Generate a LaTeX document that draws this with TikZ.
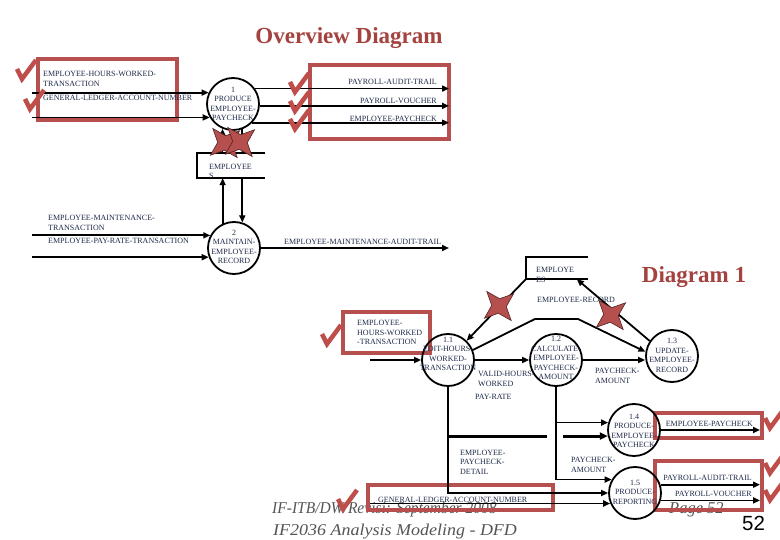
\documentclass[tikz,border=0pt]{standalone}
\usepackage{graphicx}
\usepackage{fontspec}
\setmainfont{Liberation Serif}
\newfontfamily\dfdfont{Liberation Serif}
\newfontfamily\numfont{Liberation Sans}
\usetikzlibrary{arrows.meta,shapes.geometric}
\definecolor{titlered}{HTML}{A3423F}
\definecolor{boxred}{HTML}{B5504E}
\definecolor{chkred}{HTML}{BF4E4B}
\definecolor{navy}{HTML}{1E2A48}
\definecolor{footgray}{HTML}{555555}
\begin{document}
\begin{tikzpicture}[x=1pt,y=-1pt,
  flow/.style={line width=1.8pt,-{Triangle[length=7pt,width=6pt]}},
  thickflow/.style={line width=3pt,-{Triangle[length=8pt,width=7pt]}},
  plain/.style={line width=1.8pt},
  thickline/.style={line width=3pt},
  proc/.style={circle,draw,line width=1.8pt,minimum size=52pt,inner sep=0pt},
  ptext/.style={font=\dfdfont\fontsize{8}{9.5}\selectfont,text=navy,align=center,inner sep=0pt},
  lbl/.style={font=\dfdfont\fontsize{8}{9.5}\selectfont,text=navy,align=left,inner sep=0pt},
  storebox/.style={inner sep=0pt},
  storeline/.style={line width=1.8pt},
  redbox/.style={draw=boxred,line width=3.5pt},
  redx/.style={star,star points=4,star point ratio=2.6,minimum size=38pt,inner sep=0pt,outer sep=0pt,fill=boxred,draw=black!55!boxred,line width=0.6pt,rotate=40},
  chk/.pic={\draw[chkred,line width=4.5pt,line join=miter] (-5,-10) -- (0,0) -- (14,-19);},
  ttl/.style={font=\bfseries\fontsize{23}{26}\selectfont,text=titlered,inner sep=0pt},
  foot/.style={font=\itshape\fontsize{16.5}{20}\selectfont,text=footgray,inner sep=0pt}
]
\useasboundingbox (0,0) rectangle (780,540);
\fill[white] (0,0) rectangle (780,540);

% footer
\node[foot,anchor=base west] (f1) at (272,513) {\scalebox{0.94}[1]{IF-ITB/DW/Revisi: September 2008}};
\node[foot,anchor=base west] (f2) at (273,535) {\scalebox{1.09}[1]{IF2036 Analysis Modeling - DFD}};
\node[foot,anchor=base west] (f3) at (669,513) {Page 52};
\node[font=\numfont\fontsize{20.5}{22}\selectfont,anchor=base west,inner sep=0pt] (f4) at (742,530) {52};

% titles
\node[ttl] (t1) at (349,38) {Overview Diagram};
\node[ttl] (t2) at (694,277) {Diagram 1};

% red boxes
\draw[redbox] (38,59) rectangle (177,120);
\draw[redbox] (310,65) rectangle (449,139);
\draw[redbox] (343,312) rectangle (430,353);
\draw[redbox] (368,485) rectangle (553,510);
\draw[redbox] (655,413) rectangle (762,438);
\draw[redbox] (655,461) rectangle (762,510);

% ---------- overview ----------
\node[proc] (p1) at (233,104) {};
\node[ptext] (p1t) at (233,104) {1\\PRODUCE\\EMPLOYEE-\\PAYCHECK};
\node[proc] (p2) at (234,248) {};
\node[ptext] (p2t) at (234,247) {2\\MAINTAIN-\\EMPLOYEE-\\RECORD};

\node[storebox,minimum width=68pt,minimum height=25pt] (s1) at (231,165.5) {};
\draw[storeline] (s1.north east) -- (s1.north west) -- (s1.south west) -- (s1.south east);
\node[lbl,anchor=west] (s1t) at (209,171.5) {EMPLOYEE\\S};

\coordinate (lx) at (32,0);
\coordinate (rx) at (449,0);
\draw[flow] (lx |- p1.155) -- (p1.155);
\draw[flow] (lx |- p1.210) -- (p1.210);
\draw[flow] (p1.35) -- (p1.35 -| rx);
\draw[flow] (p1.356) -- (p1.356 -| rx);
\draw[flow] (p1.316) -- (p1.316 -| rx);

\draw[flow] (p1.247 |- s1.north) -- (p1.247);
\draw[flow] (p1.290) -- (p1.290 |- s1.north);
\draw[flow] (p2.115) -- (p2.115 |- s1.south);
\draw[flow] (p2.72 |- s1.south) -- (p2.72);

\draw[flow] (lx |- p2.152) -- (p2.152);
\draw[flow] (lx |- p2.200) -- (p2.200);
\draw[flow] (p2.east) -- (p2.east -| rx);

\node[lbl,anchor=west] (l1) at (43,78.7) {EMPLOYEE-HOURS-WORKED-\\TRANSACTION};
\node[lbl,anchor=west] (l2) at (43,98) {GENERAL-LEDGER-ACCOUNT-NUMBER};
\node[lbl,anchor=east] (l3) at (437,82) {PAYROLL-AUDIT-TRAIL};
\node[lbl,anchor=east] (l4) at (437,101) {PAYROLL-VOUCHER};
\node[lbl,anchor=east] (l5) at (437,119) {EMPLOYEE-PAYCHECK};
\node[lbl,anchor=west] (l6) at (48,223) {EMPLOYEE-MAINTENANCE-\\TRANSACTION};
\node[lbl,anchor=west] (l7) at (48,241) {EMPLOYEE-PAY-RATE-TRANSACTION};
\node[lbl,anchor=west] (l8) at (284,242) {EMPLOYEE-MAINTENANCE-AUDIT-TRAIL};

% ---------- diagram 1 ----------
\node[storebox,minimum width=62pt,minimum height=22pt] (s2) at (557,268) {};
\draw[storeline] (s2.north east) -- (s2.north west) -- (s2.south west) -- (s2.south east);
\node[lbl,anchor=west] (s2t) at (536,275) {EMPLOYE\\ES};
\node[lbl,anchor=west] (l9) at (537,300) {EMPLOYEE-RECORD};

\node[proc] (p11) at (448,360) {};
\node[ptext] (p11t) at (448,354) {1.1\\EDIT-HOURS-\\WORKED-\\TRANSACTION};
\node[proc] (p12) at (556,360) {};
\node[ptext] (p12t) at (556,358) {1.2\\CALCULATE-\\EMPLOYEE-\\PAYCHECK-\\AMOUNT};
\node[proc] (p13) at (672,356) {};
\node[ptext] (p13t) at (672,355.5) {1.3\\UPDATE-\\EMPLOYEE-\\RECORD};
\node[proc] (p14) at (634,430) {};
\node[ptext] (p14t) at (634,431) {1.4\\PRODUCE-\\EMPLOYEE-\\PAYCHECK};
\node[proc] (p15) at (635,493) {};
\node[ptext] (p15t) at (635,492) {1.5\\PRODUCE-\\REPORTING};

\draw[flow] (s2.south west) -- (p11.46);
\draw[flow] (p13.146) -- ([xshift=51pt]s2.south west);
\coordinate (k1) at (535,319);
\coordinate (k2) at (578,319);
\draw[flow] (p11.22) -- (k1) -- (k2) -- (p13.171);

\coordinate (in11) at (370,360);
\draw[flow] (in11) -- (p11.west);
\draw[flow] (p11.east) -- (p12.west);
\draw[flow] (p12.east) -- (p12.east -| p13.west);

\draw[flow] (p11.south) -- (p11.south |- p15.west) -- (p15.west);
\coordinate (t1a) at (448,436);
\coordinate (t1b) at (547,436);
\coordinate (t1c) at (563,436);
\draw[thickline] (t1a) -- (t1b);
\draw[thickflow] (t1c |- p14.193) -- (p14.193);
\draw[flow] (p12.south) -- (p12.south |- p15.150) -- (p15.150);
\draw[flow] (p12.south |- p14.164) -- (p14.164);
\coordinate (in15) at (370,0);
\draw[flow] (in15 |- p15.203) -- (p15.203);
\coordinate (rx2) at (760,0);
\draw[flow] (p14.east) -- (p14.east -| rx2);
\draw[flow] (p15.18) -- (p15.18 -| rx2);
\draw[flow] (p15.344) -- (p15.344 -| rx2);

\node[lbl,anchor=west] (l10) at (357,332.5) {EMPLOYEE-\\HOURS-WORKED\\-TRANSACTION};
\node[lbl,anchor=west] (l11) at (478,379) {VALID-HOURS-\\WORKED};
\node[lbl,anchor=west] (l12) at (475,396.5) {PAY-RATE};
\node[lbl,anchor=west] (l13) at (595,376) {PAYCHECK-\\AMOUNT};
\node[lbl,anchor=west] (l14) at (460,462) {EMPLOYEE-\\PAYCHECK-\\DETAIL};
\node[lbl,anchor=west] (l15) at (571,465) {PAYCHECK-\\AMOUNT};
\node[lbl,anchor=west] (l16) at (378,500) {GENERAL-LEDGER-ACCOUNT-NUMBER};
\node[lbl,anchor=east] (l17) at (753,424) {EMPLOYEE-PAYCHECK};
\node[lbl,anchor=east] (l18) at (752,478) {PAYROLL-AUDIT-TRAIL};
\node[lbl,anchor=east] (l19) at (752,494) {PAYROLL-VOUCHER};

% red crosses
\node[redx] (x1) at (225,143) {};
\node[redx] (x2) at (240,142) {};
\node[redx] (x3) at (499,306) {};
\node[redx] (x4) at (611,315) {};

% check marks
\pic (c1) at (22,79) {chk};
\pic (c2) at (30,109) {chk};
\pic (c3) at (295,92) {chk};
\pic (c4) at (295,111) {chk};
\pic (c5) at (295,129) {chk};
\pic (c6) at (327,344) {chk};
\pic (c7) at (343,509) {chk};
\pic (c8) at (770,428) {chk};
\pic (c9) at (770,473) {chk};
\pic (c10) at (770,500) {chk};
\end{tikzpicture}
\end{document}
